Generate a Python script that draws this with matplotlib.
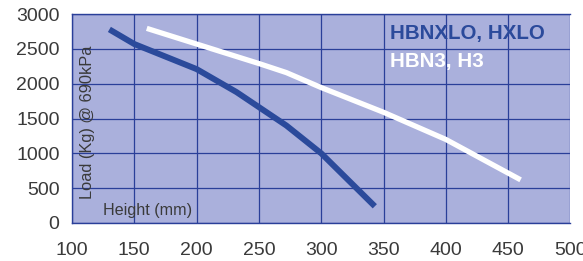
import matplotlib.pyplot as plt

# values
height_xlo = [130, 150, 200, 232, 272, 300, 343]
load_xlo = [2780, 2570, 2210, 1880, 1400, 1000, 240]
height_h3 = [160, 200, 250, 272, 300, 350, 400, 460]
load_h3 = [2795, 2570, 2290, 2160, 1945, 1590, 1200, 620]

x_ticks = [100, 150, 200, 250, 300, 350, 400, 450, 500]
y_ticks = [0, 500, 1000, 1500, 2000, 2500, 3000]

plt.rcParams['font.family'] = ['Liberation Sans', 'DejaVu Sans']

grid_blue = '#2a3f99'
line_blue = '#2b4a9b'
text_grey = '#3a3a3a'

fig = plt.figure(figsize=(5.83, 2.61), dpi=100)
ax = fig.add_axes([0.1235, 0.1456, 0.855, 0.8004])
ax.set_facecolor('#aab0dc')

ax.plot(height_xlo, load_xlo, color=line_blue, linewidth=4.3, solid_capstyle='butt', zorder=3)
ax.plot(height_h3, load_h3, color='white', linewidth=3.8, solid_capstyle='butt', zorder=3)

ax.set_xlim(100, 500)
ax.set_ylim(0, 3000)
ax.set_xticks(x_ticks)
ax.set_yticks(y_ticks)
ax.grid(True, color=grid_blue, linewidth=0.9)
ax.set_axisbelow(True)
ax.tick_params(length=0, labelsize=14, labelcolor=text_grey)
ax.tick_params(axis='x', pad=14)
ax.tick_params(axis='y', pad=9)

for side in ['left', 'bottom', 'top']:
	ax.spines[side].set_color(grid_blue)
	ax.spines[side].set_linewidth(1.0)
ax.spines['right'].set_visible(False)

ax.text(0.031, 0.48, 'Load (Kg) @ 690kPa', transform=ax.transAxes, rotation=90,
	ha='center', va='center', fontsize=11.8, color=text_grey)
ax.text(0.062, 0.062, 'Height (mm)', transform=ax.transAxes,
	ha='left', va='center', fontsize=11.6, color=text_grey)
ax.text(0.637, 0.905, 'HBNXLO, HXLO', transform=ax.transAxes,
	ha='left', va='center', fontsize=14.8, fontweight='bold', color=line_blue)
ax.text(0.637, 0.775, 'HBN3, H3', transform=ax.transAxes,
	ha='left', va='center', fontsize=14.8, fontweight='bold', color='white')

fig.savefig('out.png', dpi=100)
